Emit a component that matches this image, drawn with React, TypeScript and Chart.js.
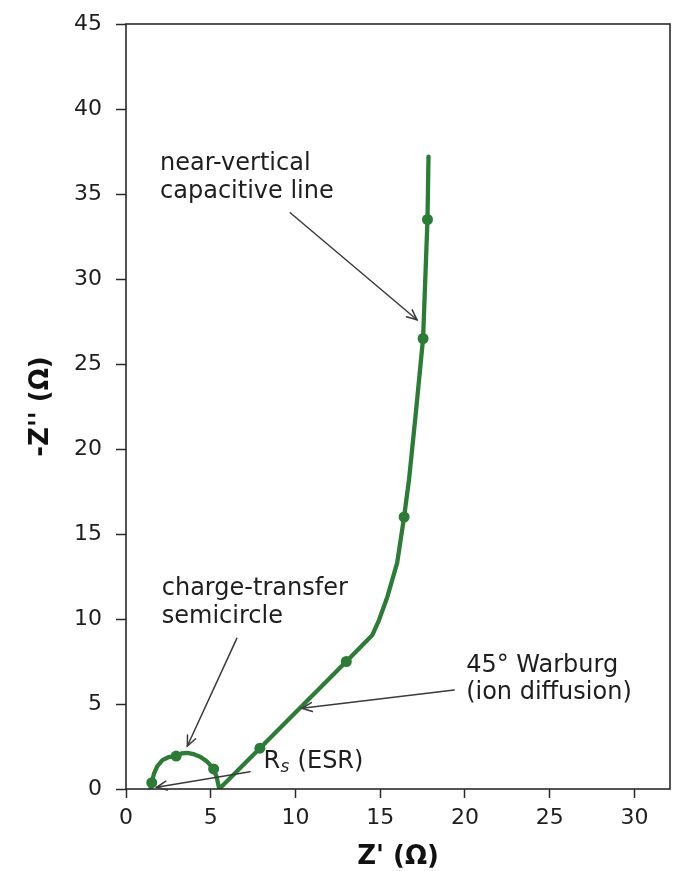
import React, { useEffect, useRef } from "react";
import { Chart, registerables } from "chart.js";

Chart.register(...registerables);

// Impedance path (Z', -Z'')
const pathZre = [1.45, 1.52, 1.65, 1.85, 2.15, 2.5, 2.96, 3.3, 3.6, 4.0, 4.4, 4.8, 5.17, 5.35, 5.45, 5.5, 7.9, 13.0, 14.54, 14.93, 15.42, 16.0, 16.41, 16.7, 17.06, 17.53, 17.79, 17.85];
const pathZim = [0.05, 0.37, 0.9, 1.35, 1.7, 1.87, 1.94, 2.1, 2.13, 2.05, 1.88, 1.6, 1.18, 0.7, 0.25, 0.0, 2.4, 7.5, 9.06, 9.94, 11.3, 13.3, 16.0, 18.2, 21.7, 26.5, 33.5, 37.2];

// Measured points (markers)
const markerZre = [1.52, 2.96, 5.17, 7.9, 13.0, 16.41, 17.53, 17.79];
const markerZim = [0.37, 1.94, 1.18, 2.4, 7.5, 16.0, 26.5, 33.5];

// Axes
const xTicks = [0, 5, 10, 15, 20, 25, 30];
const yTicks = [0, 5, 10, 15, 20, 25, 30, 35, 40, 45];
const xMin = 0;
const xMax = 32.1;
const yMin = 0;
const yMax = 45;
const xTitle = "Z' (Ω)";
const yTitle = "-Z'' (Ω)";

// Annotations (text lines, text anchor in data units, arrow tail/head in data units)
const noteLines = [
  ["near-vertical", "capacitive line"],
  ["charge-transfer", "semicircle"],
  ["45° Warburg", "(ion diffusion)"],
  ["R_{s} (ESR)"],
];
const noteTextX = [2.01, 2.11, 20.07, 8.11];
const noteTextY = [36.41, 11.41, 6.9, 1.22];
const arrowTailX = [9.69, 6.54, 19.37, 7.32];
const arrowTailY = [33.9, 8.86, 5.82, 1.02];
const arrowHeadX = [17.17, 3.62, 10.38, 1.81];
const arrowHeadY = [27.6, 2.53, 4.75, 0.1];

const GREEN = "#2b7d36";
const FONT = "'DejaVu Sans', sans-serif";

function drawRichLine(ctx: CanvasRenderingContext2D, text: string, x: number, y: number, size: number) {
  const re = /_\{([^}]*)\}/;
  const m = text.match(re);
  ctx.font = `${size}px ${FONT}`;
  if (!m || m.index === undefined) {
    ctx.fillText(text, x, y);
    return;
  }
  const before = text.slice(0, m.index);
  const sub = m[1];
  const after = text.slice(m.index + m[0].length);
  ctx.fillText(before, x, y);
  let cx = x + ctx.measureText(before).width;
  ctx.font = `italic ${Math.round(size * 0.7)}px ${FONT}`;
  ctx.fillText(sub, cx + 0.5, y + size * 0.15);
  cx += ctx.measureText(sub).width + 1;
  ctx.font = `${size}px ${FONT}`;
  ctx.fillText(after, cx, y);
}

const framePlugin = {
  id: "frame",
  afterDatasetsDraw(chart: any) {
    const { ctx, chartArea } = chart;
    ctx.save();
    ctx.strokeStyle = "#2a2a2a";
    ctx.lineWidth = 1.6;
    ctx.strokeRect(chartArea.left, chartArea.top, chartArea.right - chartArea.left, chartArea.bottom - chartArea.top);
    ctx.restore();
  },
};

const notesPlugin = {
  id: "notes",
  afterDraw(chart: any) {
    const { ctx } = chart;
    const xs = chart.scales.x;
    const ys = chart.scales.y;
    ctx.save();
    ctx.strokeStyle = "#3a3a3a";
    ctx.lineWidth = 1.5;
    ctx.lineCap = "round";
    for (let i = 0; i < noteLines.length; i++) {
      const tx = xs.getPixelForValue(arrowTailX[i]);
      const ty = ys.getPixelForValue(arrowTailY[i]);
      const hx = xs.getPixelForValue(arrowHeadX[i]);
      const hy = ys.getPixelForValue(arrowHeadY[i]);
      ctx.beginPath();
      ctx.moveTo(tx, ty);
      ctx.lineTo(hx, hy);
      ctx.stroke();
      const ang = Math.atan2(hy - ty, hx - tx);
      const L = 11;
      const a = 0.42;
      ctx.beginPath();
      ctx.moveTo(hx - L * Math.cos(ang - a), hy - L * Math.sin(ang - a));
      ctx.lineTo(hx, hy);
      ctx.lineTo(hx - L * Math.cos(ang + a), hy - L * Math.sin(ang + a));
      ctx.stroke();
    }
    ctx.fillStyle = "#1e1e1e";
    ctx.textBaseline = "alphabetic";
    ctx.textAlign = "left";
    for (let i = 0; i < noteLines.length; i++) {
      const x0 = xs.getPixelForValue(noteTextX[i]);
      const y0 = ys.getPixelForValue(noteTextY[i]);
      noteLines[i].forEach((line, j) => {
        drawRichLine(ctx, line, x0, y0 + j * 27.6, 24);
      });
    }
    ctx.restore();
  },
};

export default function App() {
  const ref = useRef<HTMLCanvasElement | null>(null);
  useEffect(() => {
    if (!ref.current) return;
    const pathData = pathZre.map((x, i) => ({ x, y: pathZim[i] }));
    const markerData = markerZre.map((x, i) => ({ x, y: markerZim[i] }));
    const tickFont = { family: FONT, size: 22 };
    const chart = new Chart(ref.current, {
      type: "scatter",
      data: {
        datasets: [
          {
            data: pathData,
            showLine: true,
            borderColor: GREEN,
            backgroundColor: GREEN,
            borderWidth: 4.3,
            pointRadius: 0,
            tension: 0,
            borderJoinStyle: "round",
            borderCapStyle: "round",
          },
          {
            data: markerData,
            showLine: false,
            pointRadius: 5.5,
            pointBackgroundColor: GREEN,
            pointBorderColor: GREEN,
            pointBorderWidth: 0,
          },
        ],
      },
      options: {
        responsive: false,
        animation: false,
        devicePixelRatio: 1,
        layout: { padding: { left: 0, right: 25, top: 24, bottom: 0 } },
        plugins: { legend: { display: false }, tooltip: { enabled: false } },
        scales: {
          x: {
            type: "linear",
            min: xMin,
            max: xMax,
            afterFit: (s: any) => {
              s.height = 82;
              s.paddingLeft = 0;
              s.paddingRight = 0;
            },
            afterBuildTicks: (s: any) => {
              s.ticks = xTicks.map((v) => ({ value: v }));
            },
            grid: {
              display: true,
              drawOnChartArea: false,
              drawTicks: true,
              tickLength: 9,
              tickColor: "#2a2a2a",
              tickWidth: 1.5,
            },
            border: { display: false },
            ticks: { font: tickFont, color: "#1e1e1e", padding: 7, maxRotation: 0, autoSkip: false },
            title: {
              display: true,
              text: xTitle,
              font: { family: FONT, size: 26, weight: "bold", lineHeight: 1.2 },
              color: "#111",
              padding: { top: 0, bottom: -2 },
            },
          },
          y: {
            type: "linear",
            min: yMin,
            max: yMax,
            afterFit: (s: any) => {
              s.width = 126;
              s.paddingTop = 0;
              s.paddingBottom = 0;
            },
            afterBuildTicks: (s: any) => {
              s.ticks = yTicks.map((v) => ({ value: v }));
            },
            grid: {
              display: true,
              drawOnChartArea: false,
              drawTicks: true,
              tickLength: 10,
              tickColor: "#2a2a2a",
              tickWidth: 1.5,
            },
            border: { display: false },
            ticks: { font: tickFont, color: "#1e1e1e", padding: 14, autoSkip: false },
            title: {
              display: true,
              text: yTitle,
              font: { family: FONT, size: 26, weight: "bold", lineHeight: 1.2 },
              color: "#111",
              padding: { top: 26, bottom: 0 },
            },
          },
        },
      },
      plugins: [framePlugin, notesPlugin],
    } as any);
    return () => chart.destroy();
  }, []);
  return (
    <div style={{ position: "absolute", left: 0, top: 0, width: 695, height: 871, background: "#fff" }}>
      <canvas ref={ref} width={695} height={871} style={{ display: "block", width: 695, height: 871 }} />
    </div>
  );
}
